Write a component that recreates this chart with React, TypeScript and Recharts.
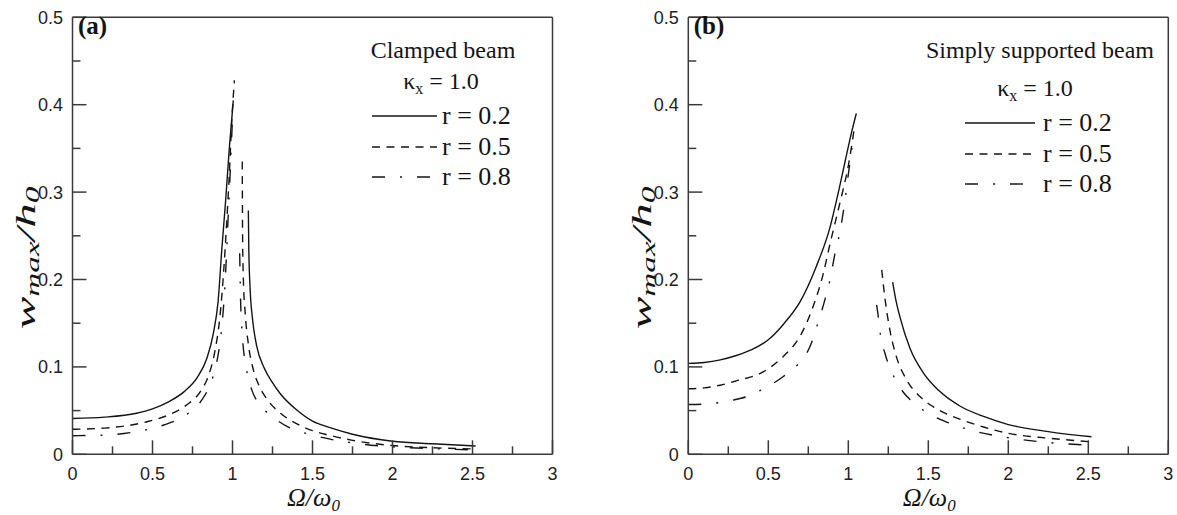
import React from 'react';
import { LineChart, Line, XAxis, YAxis, ReferenceLine } from 'recharts';

type Pt = { x: number; y: number };
const pts = (rows: number[][]): Pt[] => rows.map(([x, y]) => ({ x, y }));

// axis ticks (labels only on the major ones)
const xTicks = [0, 0.25, 0.5, 0.75, 1, 1.25, 1.5, 1.75, 2, 2.25, 2.5, 2.75, 3];
const yTicks = [0, 0.05, 0.1, 0.15, 0.2, 0.25, 0.3, 0.35, 0.4, 0.45, 0.5];
const rLabels = ['r = 0.2', 'r = 0.5', 'r = 0.8'];

// (a) clamped beam: branch below the jump frequency, then branch above it
const clamped02Rise = pts([[0, 0.041], [0.2, 0.0425], [0.4, 0.047], [0.5, 0.052], [0.6, 0.06], [0.7, 0.072], [0.78, 0.088], [0.84, 0.11], [0.88, 0.138], [0.91, 0.175], [0.933, 0.234], [0.957, 0.29], [0.98, 0.35], [1.005, 0.405]]);
const clamped02Fall = pts([[1.099, 0.279], [1.102, 0.234], [1.11, 0.19], [1.125, 0.155], [1.15, 0.125], [1.2, 0.098], [1.25, 0.082], [1.3, 0.069], [1.4, 0.051], [1.5, 0.038], [1.6, 0.031], [1.75, 0.023], [2, 0.015], [2.25, 0.012], [2.52, 0.0095]]);
const clamped05Rise = pts([[0, 0.0286], [0.2, 0.03], [0.46, 0.037], [0.6, 0.045], [0.71, 0.056], [0.8, 0.072], [0.85, 0.09], [0.89, 0.118], [0.92, 0.155], [0.945, 0.21], [0.962, 0.26], [0.98, 0.32], [0.995, 0.38], [1.012, 0.428]]);
const clamped05Fall = pts([[1.061, 0.335], [1.063, 0.25], [1.068, 0.2], [1.08, 0.16], [1.1, 0.125], [1.13, 0.097], [1.17, 0.077], [1.22, 0.062], [1.3, 0.047], [1.4, 0.035], [1.5, 0.027], [1.6, 0.022], [1.75, 0.016], [2, 0.01], [2.25, 0.0075], [2.5, 0.0062]]);
const clamped08Rise = pts([[0, 0.0213], [0.2, 0.022], [0.37, 0.025], [0.57, 0.0335], [0.7, 0.044], [0.8, 0.06], [0.86, 0.08], [0.9, 0.104], [0.93, 0.14], [0.955, 0.2], [0.97, 0.26], [0.985, 0.32], [1, 0.385]]);
const clamped08Fall = pts([[1.045, 0.23], [1.05, 0.18], [1.062, 0.135], [1.085, 0.1], [1.12, 0.074], [1.17, 0.057], [1.25, 0.043], [1.35, 0.031], [1.5, 0.022], [1.75, 0.013], [2, 0.0085], [2.25, 0.0065], [2.5, 0.005]]);

// (b) simply supported beam
const simply02Rise = pts([[0, 0.104], [0.1, 0.105], [0.2, 0.108], [0.3, 0.113], [0.4, 0.12], [0.5, 0.131], [0.6, 0.15], [0.7, 0.175], [0.8, 0.215], [0.886, 0.26], [0.927, 0.291], [0.98, 0.335], [1.02, 0.368], [1.05, 0.39]]);
const simply02Fall = pts([[1.277, 0.197], [1.3, 0.174], [1.323, 0.157], [1.386, 0.121], [1.47, 0.093], [1.5625, 0.0735], [1.7, 0.055], [1.85, 0.043], [2, 0.034], [2.25, 0.026], [2.52, 0.02]]);
const simply05Rise = pts([[0, 0.075], [0.1, 0.076], [0.2, 0.079], [0.3, 0.084], [0.47, 0.0945], [0.594, 0.112], [0.698, 0.135], [0.78, 0.169], [0.844, 0.207], [0.886, 0.241], [0.927, 0.272], [0.96, 0.297], [1, 0.33], [1.035, 0.37]]);
const simply05Fall = pts([[1.209, 0.211], [1.23, 0.177], [1.26, 0.142], [1.3, 0.112], [1.365, 0.085], [1.448, 0.066], [1.53, 0.0545], [1.7, 0.04], [1.85, 0.031], [2, 0.024], [2.25, 0.0185], [2.5, 0.0145]]);
const simply08Rise = pts([[0, 0.057], [0.1, 0.0575], [0.28, 0.062], [0.365, 0.066], [0.46, 0.074], [0.594, 0.089], [0.69, 0.104], [0.76, 0.123], [0.81, 0.15], [0.854, 0.177], [0.886, 0.2], [0.917, 0.23], [0.948, 0.255], [0.975, 0.285], [1, 0.32], [1.03, 0.36]]);
const simply08Fall = pts([[1.177, 0.171], [1.19, 0.154], [1.2, 0.138], [1.23, 0.115], [1.29, 0.087], [1.344, 0.071], [1.39, 0.062], [1.48, 0.049], [1.6, 0.038], [1.8, 0.026], [2, 0.019], [2.25, 0.0135], [2.5, 0.0105]]);

const FRAME = '#3a3a3a';
const INK = '#141414';
const SANS = 'Liberation Sans, Arial, sans-serif';
const SERIF = 'Liberation Serif, Times New Roman, serif';
const DASHES = ['', '8 6.5', '13 15 2 15'];

const renderXTick = (p: any) => {
  const v = p.payload.value;
  const major = Math.abs(v * 2 - Math.round(v * 2)) < 1e-6;
  return (
    <g>
      <line x1={p.x} x2={p.x} y1={p.y} y2={p.y - (major ? 14 : 8)} stroke={FRAME} strokeWidth={1.5} />
      {major && (
        <text x={p.x} y={p.y + 25.5} textAnchor="middle" style={{ fontFamily: SANS, fontSize: 18 }} fill="#222">
          {String(v)}
        </text>
      )}
    </g>
  );
};

const renderYTick = (p: any) => {
  const v = p.payload.value;
  const major = Math.abs(v * 10 - Math.round(v * 10)) < 1e-6;
  return (
    <g>
      <line x1={p.x} x2={p.x + (major ? 14 : 8)} y1={p.y} y2={p.y} stroke={FRAME} strokeWidth={1.5} />
      {major && (
        <text x={p.x - 9.5} y={p.y + 6.5} textAnchor="end" style={{ fontFamily: SANS, fontSize: 18 }} fill="#222">
          {String(v)}
        </text>
      )}
    </g>
  );
};

type LegendPos = { head: [number, number]; kappa: [number, number]; lineX: [number, number]; textX: number; rows: number[] };

const serif = (size: number, extra: React.CSSProperties = {}): React.CSSProperties => ({
  fontFamily: SERIF,
  fontSize: size,
  ...extra,
});

function Panel(props: {
  left: number;
  width: number;
  plotLeft: number;
  plotRight: number;
  tag: string;
  heading: string;
  series: Pt[][][];
  legend: LegendPos;
}) {
  const { left, width, plotLeft, plotRight, tag, heading, series, legend } = props;
  const plotMid = (plotLeft + plotRight) / 2;
  return (
    <div style={{ position: 'absolute', left, top: 0, width, height: 515 }}>
      <LineChart width={width} height={515} margin={{ top: 17.3, right: width - plotRight, bottom: 0, left: 0 }}>
        <XAxis
          type="number"
          dataKey="x"
          domain={[0, 3]}
          ticks={xTicks}
          interval={0}
          height={60.7}
          tickSize={0}
          tickMargin={0}
          tickLine={false}
          tick={renderXTick}
          axisLine={{ stroke: FRAME, strokeWidth: 1.5 }}
          allowDataOverflow
        />
        <YAxis
          type="number"
          domain={[0, 0.5]}
          ticks={yTicks}
          interval={0}
          width={plotLeft}
          tickSize={0}
          tickMargin={0}
          tickLine={false}
          tick={renderYTick}
          axisLine={{ stroke: FRAME, strokeWidth: 1.5 }}
          allowDataOverflow
        />
        <ReferenceLine x={3} stroke={FRAME} strokeWidth={1.5} />
        <ReferenceLine y={0.5} stroke={FRAME} strokeWidth={1.5} />
        {series.map((branches, i) =>
          branches.map((data, j) => (
            <Line
              key={`${i}-${j}`}
              data={data}
              dataKey="y"
              type="monotone"
              stroke={INK}
              strokeWidth={1.4}
              strokeDasharray={DASHES[i] || undefined}
              dot={false}
              activeDot={false}
              isAnimationActive={false}
            />
          ))
        )}
      </LineChart>
      <svg width={width} height={515} style={{ position: 'absolute', left: 0, top: 0, pointerEvents: 'none' }}>
        <text x={plotLeft + 5.5} y={34} style={serif(25, { fontWeight: 'bold' })} fill={INK}>
          {tag}
        </text>
        <text
          transform={`translate(${plotLeft - 37.5}, 258) rotate(-90) scale(1.75, 1)`}
          textAnchor="middle"
          style={serif(28, { fontStyle: 'italic' })}
          fill={INK}
        >
          <tspan>w</tspan>
          <tspan style={{ fontSize: 19 }} dy={4}>max</tspan>
          <tspan dy={-4}>/h</tspan>
          <tspan style={{ fontSize: 19 }} dy={4}>0</tspan>
        </text>
        <text x={plotMid + 1} y={506} textAnchor="middle" style={serif(26, { fontStyle: 'italic' })} fill={INK}>
          <tspan>Ω/ω</tspan>
          <tspan style={{ fontSize: 17 }} dy={5}>0</tspan>
        </text>
        <text x={legend.head[0]} y={legend.head[1]} textAnchor="middle" style={serif(24)} fill={INK}>
          {heading}
        </text>
        <text x={legend.kappa[0]} y={legend.kappa[1]} textAnchor="middle" style={serif(24)} fill={INK}>
          <tspan>κ</tspan>
          <tspan style={{ fontSize: 16 }} dy={5}>x</tspan>
          <tspan dy={-5}> = 1.0</tspan>
        </text>
        {rLabels.map((label, i) => (
          <g key={label}>
            <line
              x1={legend.lineX[0]}
              x2={legend.lineX[1]}
              y1={legend.rows[i] - 8}
              y2={legend.rows[i] - 8}
              stroke={INK}
              strokeWidth={1.4}
              strokeDasharray={DASHES[i] || undefined}
            />
            <text x={legend.textX} y={legend.rows[i]} style={serif(26)} fill={INK}>
              {label}
            </text>
          </g>
        ))}
      </svg>
    </div>
  );
}

export default function App() {
  return (
    <div style={{ position: 'absolute', left: 0, top: 0, width: 1177, height: 515, background: '#fff' }}>
      <Panel
        left={0}
        width={580}
        plotLeft={72.5}
        plotRight={552.5}
        tag="(a)"
        heading="Clamped beam"
        series={[
          [clamped02Rise, clamped02Fall],
          [clamped05Rise, clamped05Fall],
          [clamped08Rise, clamped08Fall],
        ]}
        legend={{ head: [443, 58], kappa: [441, 89], lineX: [372, 437], textX: 442, rows: [124, 155, 185] }}
      />
      <Panel
        left={600}
        width={577}
        plotLeft={88.3}
        plotRight={568.3}
        tag="(b)"
        heading="Simply supported beam"
        series={[
          [simply02Rise, simply02Fall],
          [simply05Rise, simply05Fall],
          [simply08Rise, simply08Fall],
        ]}
        legend={{ head: [440, 58], kappa: [435, 96], lineX: [365, 435], textX: 443, rows: [131, 162, 192] }}
      />
    </div>
  );
}
